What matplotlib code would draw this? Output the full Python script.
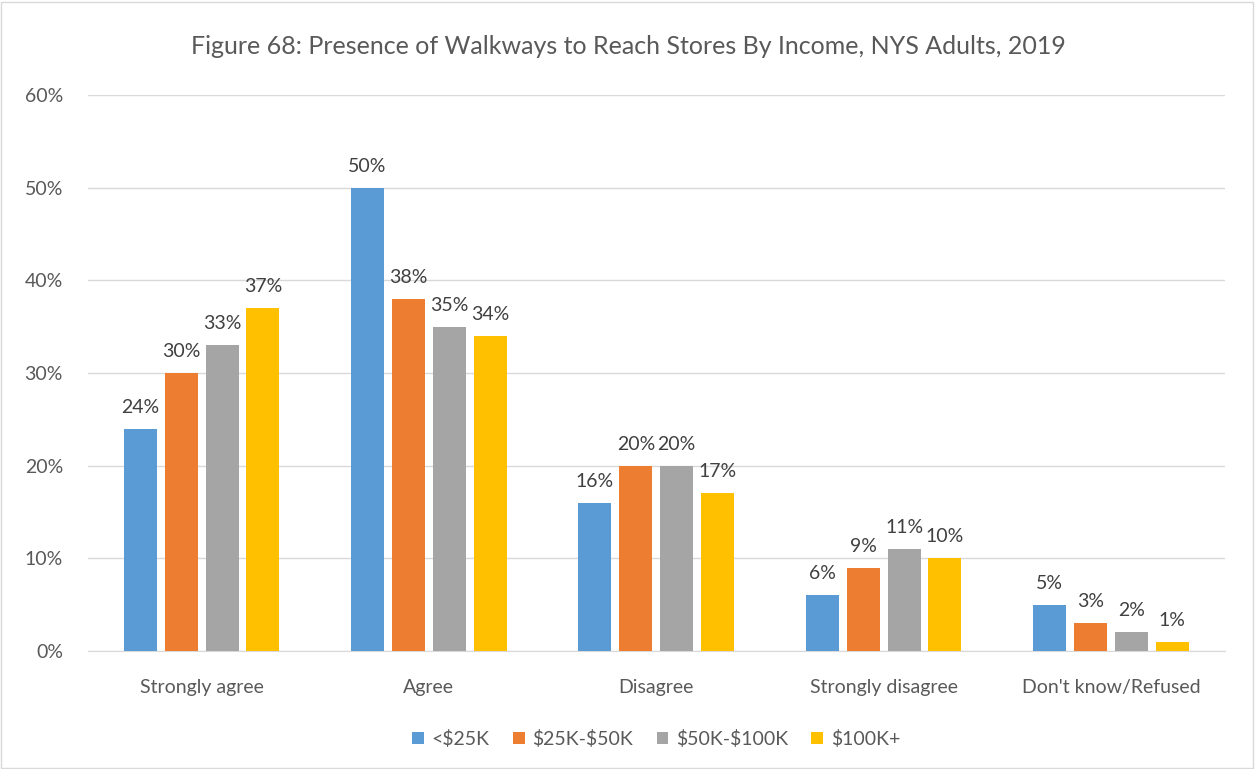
import numpy as np
import matplotlib.pyplot as plt

plt.rcParams['font.family'] = ['Lato', 'DejaVu Sans']
plt.rcParams['text.parse_math'] = False

categories = ['Strongly agree', 'Agree', 'Disagree', 'Strongly disagree', "Don't know/Refused"]
groups = ['<$25K', '$25K-$50K', '$50K-$100K', '$100K+']
values = [
    [24, 50, 16, 6, 5],
    [30, 38, 20, 9, 3],
    [33, 35, 20, 11, 2],
    [37, 34, 17, 10, 1],
]
colors = ['#5B9BD5', '#ED7D31', '#A5A5A5', '#FFC000']

fig = plt.figure(figsize=(12.56, 7.69), dpi=100)
ax = fig.add_axes([0.070, 0.1535, 0.905, 0.723])

x = np.arange(len(categories))
step = 0.18
width = 0.145
for i, (g, vals) in enumerate(zip(groups, values)):
    pos = x + (i - 1.5) * step
    ax.bar(pos, vals, width, color=colors[i], label=g, zorder=3)
    for p, v in zip(pos, vals):
        ax.text(p, v + 1.4, f'{v}%', ha='center', va='bottom', fontsize=14, color='#404040')

ax.set_xlim(-0.5, 4.5)
ax.set_ylim(0, 60)
ax.set_yticks(range(0, 61, 10))
ax.set_yticklabels([f'{t}%' for t in range(0, 61, 10)])
ax.set_xticks(x)
ax.set_xticklabels(categories)
ax.tick_params(axis='both', length=0, labelsize=14, colors='#595959')
ax.tick_params(axis='x', pad=20)
ax.tick_params(axis='y', pad=18)
ax.grid(axis='y', color='#D9D9D9', linewidth=1, zorder=0)
for s in ['top', 'right', 'left']:
    ax.spines[s].set_visible(False)
ax.spines['bottom'].set_color('#D9D9D9')

fig.text(0.5, 0.94, 'Figure 68: Presence of Walkways to Reach Stores By Income, NYS Adults, 2019',
         ha='center', va='center', fontsize=18, color='#595959')

ax.legend(loc='upper center', bbox_to_anchor=(0.5, -0.11), ncol=4, frameon=False,
          fontsize=14, handlelength=0.6, handleheight=0.6, columnspacing=1.2, handletextpad=0.4,
          labelcolor='#595959')

fig.patches.append(plt.Rectangle((0.001, 0.001), 0.997, 0.997, transform=fig.transFigure,
                                 fill=False, edgecolor='#D9D9D9', linewidth=1))

fig.savefig('out.png', dpi=100)
